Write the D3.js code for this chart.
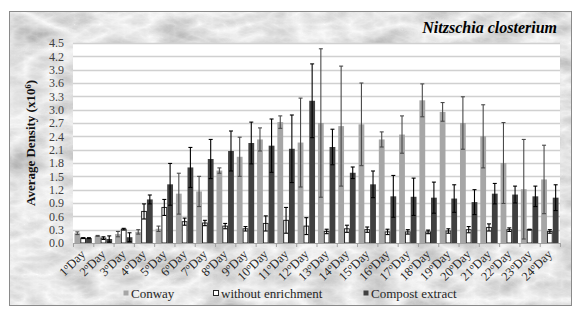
<!DOCTYPE html>
<html>
<head>
<meta charset="utf-8">
<script src="https://cdn.jsdelivr.net/npm/d3@7"></script>
<style>
  html, body { margin: 0; padding: 0; background: #fff; }
  svg { display: block; }
</style>
</head>
<body>
<div id="chart"></div>
<script>
// Data
const days = ['1', '2', '3', '4', '5', '6', '7', '8', '9', '10', '11', '12',
  '13', '14', '15', '16', '17', '18', '19', '20', '21', '22', '23', '24'];
const seriesNames = ['Conway', 'without enrichment', 'Compost extract'];

const conway = [0.22, 0.16, 0.20, 0.25, 0.32, 1.11, 1.16, 1.63, 1.94, 2.33, 2.72, 2.26,
  2.70, 2.63, 2.67, 2.33, 2.44, 3.21, 2.95, 2.70, 2.40, 1.80, 1.21, 1.43];
const conwayErr = [0.03, 0.01, 0.06, 0.05, 0.06, 0.46, 0.34, 0.06, 0.44, 0.26, 0.14, 1.00,
  1.67, 1.35, 0.93, 0.17, 0.42, 0.37, 0.21, 0.59, 0.71, 0.91, 1.12, 0.77];
const without = [0.11, 0.11, 0.31, 0.71, 0.80, 0.48, 0.45, 0.38, 0.32, 0.44, 0.51, 0.38,
  0.26, 0.32, 0.30, 0.25, 0.25, 0.25, 0.27, 0.30, 0.35, 0.30, 0.30, 0.26];
const withoutErr = [0.01, 0.03, 0.02, 0.17, 0.18, 0.08, 0.06, 0.06, 0.05, 0.17, 0.29, 0.19,
  0.05, 0.08, 0.06, 0.06, 0.05, 0.04, 0.05, 0.07, 0.08, 0.04, 0.01, 0.04];
const compost = [0.11, 0.09, 0.13, 0.98, 1.32, 1.70, 1.89, 2.07, 2.25, 2.19, 2.12, 3.20,
  2.16, 1.58, 1.32, 1.05, 1.04, 1.02, 1.00, 0.92, 1.11, 1.09, 1.05, 1.02];
const compostErr = [0.01, 0.07, 0.10, 0.10, 0.47, 0.45, 0.44, 0.45, 0.47, 0.60, 0.76, 0.83,
  0.40, 0.13, 0.30, 0.47, 0.42, 0.35, 0.31, 0.28, 0.23, 0.19, 0.23, 0.29];
const yTicks = [0, 0.3, 0.6, 0.9, 1.2, 1.5, 1.8, 2.1, 2.4, 2.7, 3.0, 3.3, 3.6, 3.9, 4.2, 4.5];

const values = [conway, without, compost];
const errors = [conwayErr, withoutErr, compostErr];
const fills = ['#a6a6a6', '#ffffff', '#404040'];
const strokes = ['none', '#262626', 'none'];
const errColors = ['#4a4a4a', '#000000', '#000000'];
const serif = '"Liberation Serif", "Times New Roman", serif';

const width = 586, height = 315;
const plot = { left: 73, right: 560, top: 43, bottom: 243 };

const svg = d3.select('#chart').append('svg')
  .attr('width', width)
  .attr('height', height)
  .attr('font-family', serif);

// marble-ish background
const defs = svg.append('defs');
const filt = defs.append('filter').attr('id', 'marble')
  .attr('x', 0).attr('y', 0).attr('width', '100%').attr('height', '100%');
filt.append('feTurbulence')
  .attr('type', 'turbulence')
  .attr('baseFrequency', '0.02 0.04')
  .attr('numOctaves', 5)
  .attr('seed', 3);
filt.append('feColorMatrix')
  .attr('type', 'matrix')
  .attr('values', '-0.6 0 0 0 0.97  -0.6 0 0 0 0.97  -0.6 0 0 0 0.97  0 0 0 0 1');

svg.append('rect')
  .attr('x', 9.5).attr('y', 11.5)
  .attr('width', 562).attr('height', 294)
  .attr('filter', 'url(#marble)');
svg.append('rect')
  .attr('x', 9.5).attr('y', 11.5)
  .attr('width', 562).attr('height', 294)
  .attr('fill', 'none')
  .attr('stroke', '#8a8a8a');

// plot area
svg.append('rect')
  .attr('x', plot.left).attr('y', plot.top)
  .attr('width', plot.right - plot.left).attr('height', plot.bottom - plot.top)
  .attr('fill', '#fff');

// scales
const x0 = d3.scaleBand().domain(days).range([plot.left, plot.right]);
const bw = x0.bandwidth();
const gap = bw / 3.5 * 0.5;
const x1 = d3.scaleBand().domain(seriesNames).range([gap / 2, bw - gap / 2]);
const y = d3.scaleLinear().domain([0, 4.5]).range([plot.bottom, plot.top]);

// gridlines
svg.append('g')
  .selectAll('line')
  .data(yTicks.slice(1))
  .enter().append('line')
  .attr('x1', plot.left).attr('x2', plot.right)
  .attr('y1', d => Math.round(y(d)) + 0.5).attr('y2', d => Math.round(y(d)) + 0.5)
  .attr('stroke', '#d0d0d0')
  .attr('stroke-width', 1.3);

// y axis labels
const yAxis = svg.append('g')
  .attr('transform', `translate(${plot.left},0)`)
  .call(d3.axisLeft(y).tickValues(yTicks).tickFormat(d3.format('.1f')).tickSize(0).tickPadding(9));
yAxis.select('.domain').remove();
yAxis.attr('font-family', serif).attr('font-size', 12);
yAxis.selectAll('text').attr('fill', '#404040');

// bars
const groups = svg.append('g')
  .selectAll('g')
  .data(days)
  .enter().append('g')
  .attr('transform', d => `translate(${x0(d)},0)`);

seriesNames.forEach((name, s) => {
  groups.append('rect')
    .attr('x', x1(name) + (s === 1 ? 0.5 : 0))
    .attr('y', (d, i) => y(values[s][i]))
    .attr('width', x1.bandwidth() - (s === 1 ? 1 : 0))
    .attr('height', (d, i) => y(0) - y(values[s][i]))
    .attr('fill', fills[s])
    .attr('stroke', strokes[s])
    .attr('stroke-width', 1);
});

// error bars
seriesNames.forEach((name, s) => {
  const cx = x1(name) + x1.bandwidth() / 2;
  const eb = groups.append('g').attr('stroke', errColors[s]).attr('stroke-width', 1.1);
  eb.append('line')
    .attr('x1', cx).attr('x2', cx)
    .attr('y1', (d, i) => y(values[s][i] + errors[s][i]))
    .attr('y2', (d, i) => y(Math.max(0, values[s][i] - errors[s][i])));
  eb.append('line')
    .attr('x1', cx - 2).attr('x2', cx + 2)
    .attr('y1', (d, i) => y(values[s][i] + errors[s][i]))
    .attr('y2', (d, i) => y(values[s][i] + errors[s][i]));
  eb.append('line')
    .attr('x1', cx - 2).attr('x2', cx + 2)
    .attr('y1', (d, i) => y(Math.max(0, values[s][i] - errors[s][i])))
    .attr('y2', (d, i) => y(Math.max(0, values[s][i] - errors[s][i])));
});

// x axis
svg.append('line')
  .attr('x1', plot.left).attr('x2', plot.right)
  .attr('y1', plot.bottom + 0.5).attr('y2', plot.bottom + 0.5)
  .attr('stroke', '#a0a0a0');
svg.append('g')
  .selectAll('line')
  .data(days.concat(['end']))
  .enter().append('line')
  .attr('x1', (d, i) => plot.left + i * bw + 0.5)
  .attr('x2', (d, i) => plot.left + i * bw + 0.5)
  .attr('y1', plot.bottom).attr('y2', plot.bottom + 4)
  .attr('stroke', '#a0a0a0');

const xl = svg.append('g')
  .selectAll('text')
  .data(days)
  .enter().append('text')
  .attr('transform', d => `translate(${x0(d) + bw / 2 + 3},${plot.bottom + 12}) rotate(-45)`)
  .attr('text-anchor', 'end')
  .attr('font-family', serif)
  .attr('font-size', 12.5)
  .attr('fill', '#262626');
xl.append('tspan').text(d => d);
xl.append('tspan').attr('font-size', 8).attr('dy', -4).text('o');
xl.append('tspan').attr('dy', 4).text('Day');

// y axis title
const yTitle = svg.append('text')
  .attr('transform', `translate(35,${(plot.top + plot.bottom) / 2}) rotate(-90)`)
  .attr('text-anchor', 'middle')
  .attr('font-family', serif)
  .attr('font-size', 13)
  .attr('font-weight', 'bold')
  .attr('fill', '#111');
yTitle.append('tspan').text('Average Density (x10');
yTitle.append('tspan').attr('font-size', 8.5).attr('dy', -4).text('6');
yTitle.append('tspan').attr('dy', 4).text(')');

// title
svg.append('text')
  .attr('x', 557).attr('y', 33)
  .attr('text-anchor', 'end')
  .attr('font-family', serif)
  .attr('font-size', 16)
  .attr('font-weight', 'bold')
  .attr('font-style', 'italic')
  .attr('fill', '#000')
  .text('Nitzschia closterium');

// legend
const legendX = [123, 213, 363];
const legend = svg.append('g')
  .selectAll('g')
  .data(seriesNames)
  .enter().append('g')
  .attr('transform', (d, i) => `translate(${legendX[i]},290)`);
legend.append('rect')
  .attr('x', 0.5).attr('y', 0.5)
  .attr('width', 5).attr('height', 5)
  .attr('fill', (d, i) => fills[i])
  .attr('stroke', (d, i) => i === 1 ? '#262626' : 'none');
legend.append('text')
  .attr('x', 8).attr('y', 7.5)
  .attr('font-family', serif)
  .attr('font-size', 13)
  .attr('fill', '#262626')
  .text(d => d);
</script>
</body>
</html>
